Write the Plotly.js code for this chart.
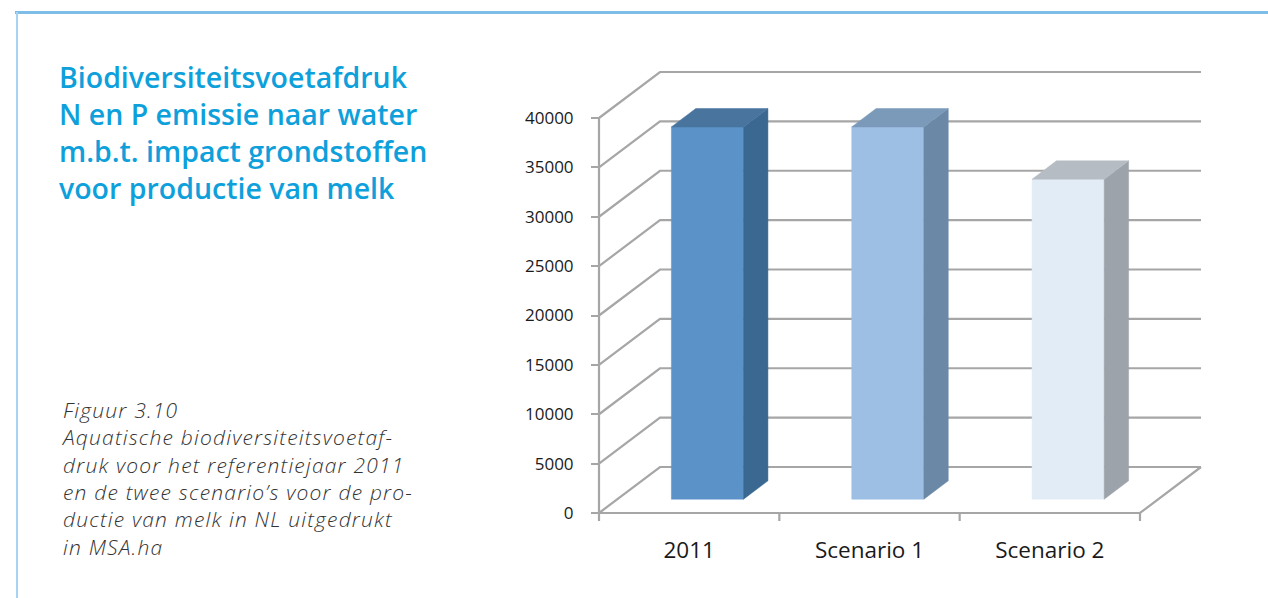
<!DOCTYPE html>
<html>
<head>
<meta charset="utf-8">
<script src="https://cdn.plot.ly/plotly-3.0.1.min.js"></script>
<style>
html,body{margin:0;padding:0;background:#fff;}
#chart{width:1268px;height:598px;}
#chart g.annotation[data-index="0"] text{letter-spacing:1.2px;}
</style>
</head>
<body>
<div id="chart"></div>
<script>
// ---- data ----
const categories = ['2011', 'Scenario 1', 'Scenario 2'];
const values = [37700, 37700, 32400];
const yTickVals = [0, 5000, 10000, 15000, 20000, 25000, 30000, 35000, 40000];
const yTickText = ['0', '5000', '10000', '15000', '20000', '25000', '30000', '35000', '40000'];
const titleLines = ['Biodiversiteitsvoetafdruk', 'N en P emissie naar water', 'm.b.t. impact grondstoffen', 'voor productie van melk'];
const captionLines = ['Figuur 3.10', 'Aquatische biodiversiteitsvoetaf-', 'druk voor het referentiejaar 2011', 'en de twee scenario\u2019s voor de pro-', 'ductie van melk in NL uitgedrukt', 'in MSA.ha'];

// ---- styling / geometry ----
const frontColors = ['#5b92c8', '#9dbfe4', '#e2ecf6'];
const sideColors = ['#3a6890', '#6b88a6', '#9ca3ab'];
const topColors = ['#48749e', '#7b9aba', '#b6bcc3'];
const gridColor = '#a6a6a6';

const W = 1268, H = 598;
const PL = 589, PR = 1213, PT = 62, PB = 523;   // plot box (px)
const X0PX = 599, Y0PX = 513;                     // front-left-bottom corner (px)
const PXX = 180.33;                               // px per category unit
const PXY = 0.009875;                             // px per value unit
const DX = 61 / PXX, DY = 46 / PXY;               // depth offset (data units)
const F0 = 0.3, F1 = 0.7, BW = 0.4;               // bar depth fractions & width

const xAt = px => -0.5 + (px - X0PX) / PXX;
const yAt = py => (Y0PX - py) / PXY;
const xp = px => (px - PL) / (PR - PL);
const yp = py => (PB - py) / (PB - PT);
const P = (x, v, d) => [x + d * DX, v + d * DY];

const n = categories.length;
const yMax = yTickVals[yTickVals.length - 1];
const traces = [];

// back wall gridlines + left wall diagonals
{
  const gx = [], gy = [];
  yTickVals.forEach(v => {
    const a = P(-0.5, v, 0), b = P(-0.5, v, 1), c = P(n - 0.5, v, 1);
    gx.push(a[0], b[0], c[0], null); gy.push(a[1], b[1], c[1], null);
  });
  const f1 = P(-0.5, 0, 0), f2 = P(n - 0.5, 0, 0), f3 = P(n - 0.5, 0, 1);
  gx.push(f1[0], f2[0], f3[0], null); gy.push(f1[1], f2[1], f3[1], null);
  gx.push(-0.5, -0.5, null); gy.push(0, yMax, null);
  const tickLen = 8 / PXY;
  for (let i = 0; i <= n; i++) { gx.push(i - 0.5, i - 0.5, null); gy.push(0, -tickLen, null); }
  traces.push({type: 'scatter', mode: 'lines', x: gx, y: gy, line: {color: gridColor, width: 2.2},
    hoverinfo: 'skip', showlegend: false, cliponaxis: false});
}

// 3D bars
categories.forEach((cat, i) => {
  const v = values[i], l = i - BW / 2, r = i + BW / 2;
  const faces = [
    {pts: [P(l, 0, F0), P(r, 0, F0), P(r, v, F0), P(l, v, F0)], color: frontColors[i]},
    {pts: [P(r, 0, F0), P(r, 0, F1), P(r, v, F1), P(r, v, F0)], color: sideColors[i]},
    {pts: [P(l, v, F0), P(r, v, F0), P(r, v, F1), P(l, v, F1)], color: topColors[i]}
  ];
  faces.forEach(f => {
    traces.push({type: 'scatter', mode: 'lines', fill: 'toself', fillcolor: f.color,
      x: f.pts.map(p => p[0]).concat([f.pts[0][0]]), y: f.pts.map(p => p[1]).concat([f.pts[0][1]]),
      line: {color: f.color, width: 0.5}, name: cat, hoverinfo: 'skip', showlegend: false});
  });
});

const layout = {
  width: W, height: H,
  margin: {l: PL, r: W - PR, t: PT, b: H - PB, pad: 0},
  paper_bgcolor: '#ffffff', plot_bgcolor: 'rgba(0,0,0,0)',
  showlegend: false,
  title: {text: titleLines.join('<br>'), xref: 'container', yref: 'container',
    x: 59 / W, xanchor: 'left', y: 1 - 88 / H, yanchor: 'top', pad: {t: 0, b: 0, l: 0, r: 0},
    font: {family: '"Open Sans", sans-serif', size: 28.5, weight: 600, color: '#0ea0db'}},
  xaxis: {range: [xAt(PL), xAt(PR)], anchor: 'free', position: yp(Y0PX),
    tickmode: 'array', tickvals: categories.map((c, i) => i), ticktext: categories,
    ticks: '', ticklabelstandoff: 21, showgrid: false, zeroline: false, showline: false,
    tickfont: {family: '"Open Sans", sans-serif', size: 22.5, color: '#1a1a1a'}, fixedrange: true},
  yaxis: {range: [yAt(PB), yAt(PT)], anchor: 'free', position: xp(X0PX),
    tickmode: 'array', tickvals: yTickVals, ticktext: yTickText,
    ticks: 'outside', ticklen: 8, tickwidth: 2, tickcolor: gridColor, ticklabelstandoff: 14,
    showgrid: false, zeroline: false, showline: false,
    tickfont: {family: '"Open Sans", sans-serif', size: 17, color: '#1a1a1a'}, fixedrange: true},
  annotations: [{text: captionLines.join('<br>'), xref: 'paper', yref: 'paper',
    x: xp(59), y: yp(394), xanchor: 'left', yanchor: 'top', showarrow: false, align: 'left',
    font: {family: '"Open Sans", sans-serif', size: 21, weight: 300, style: 'italic', color: '#333333'}}],
  shapes: [
    {type: 'line', xref: 'paper', yref: 'paper', x0: xp(15), x1: xp(W), y0: yp(12.5), y1: yp(12.5),
      line: {color: '#7dbde8', width: 3}},
    {type: 'line', xref: 'paper', yref: 'paper', x0: xp(17), x1: xp(17), y0: yp(12), y1: yp(H),
      line: {color: '#a6d3f2', width: 2}}
  ]
};

Plotly.newPlot('chart', traces, layout, {staticPlot: true, displayModeBar: false});
</script>
</body>
</html>
